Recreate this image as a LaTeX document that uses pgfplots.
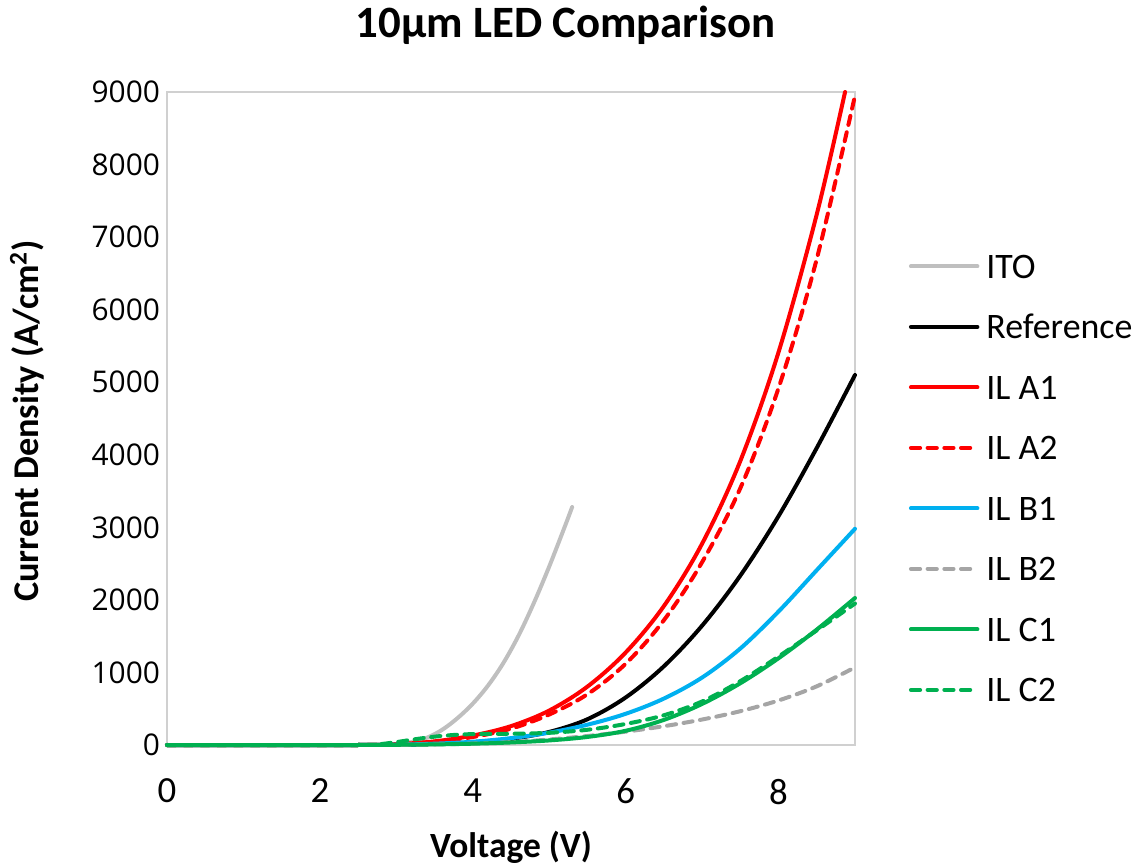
\documentclass[border=0pt]{standalone}
\usepackage{fontspec}
\setmainfont{Carlito}
\newfontfamily\yfont{Open Sans}
\usepackage{pgfplots}
\pgfplotsset{compat=1.18}
\definecolor{itogray}{RGB}{191,191,191}
\definecolor{ilred}{RGB}{255,0,0}
\definecolor{ilblue}{RGB}{0,176,240}
\definecolor{ilgray}{RGB}{165,165,165}
\definecolor{ilgreen}{RGB}{0,176,80}
\definecolor{axgray}{RGB}{208,208,208}
\begin{document}
\begin{tikzpicture}
\path[use as bounding box] (-83.5bp,-61bp) rectangle (489.5bp,372.5bp);
\begin{axis}[
  at={(0,0)}, anchor=south west,
  scale only axis, width=344bp, height=326.5bp,
  xmin=0, xmax=9, ymin=0, ymax=9000,
  xtick={0,2,4,6,8}, ytick={0,1000,...,9000},
  axis line style={draw=axgray, line width=0.9bp},
  tick style={draw=none},
  clip=false,
  /pgf/number format/assume math mode=true,
  /pgf/number format/1000 sep={},
  xticklabel style={font=\fontsize{18.5}{22}\selectfont, yshift=-13.5bp},
  yticklabel style={font=\yfont\fontsize{15}{18}\selectfont},
  every axis plot/.append style={line width=2bp, smooth, tension=0.55, line cap=round, line join=round},
  legend image code/.code={\draw[#1, sharp plot] (0bp,0bp) -- (33.25bp,0bp);},
  legend cell align=left,
  legend style={at={(1.0778,0.7513)}, anchor=north west, draw=none, fill=none,
    inner xsep=0pt, inner ysep=0pt, row sep=18.65bp, column sep=3.5bp,
    font=\fontsize{18}{21.6}\selectfont,
    nodes={inner sep=0pt, text height=11.6bp, text depth=0pt},
    cells={anchor=west}},
]
\addplot[itogray] coordinates {(0,0)(2.5,0)(2.8,3)(3.0,12)(3.2,40)(3.4,100)(3.6,210)(3.8,370)(4.0,570)(4.2,820)(4.4,1130)(4.6,1510)(4.8,1960)(5.0,2460)(5.2,3000)(5.3,3280)};
\addlegendentry{ITO}
\addplot[black] coordinates {(0,0)(2.5,0)(3.0,3)(3.5,13)(4.0,38)(4.5,85)(5.0,180)(5.5,355)(6.0,655)(6.5,1085)(7.0,1645)(7.5,2335)(8.0,3155)(8.5,4095)(9.0,5100)};
\addlegendentry{Reference}
\addplot[ilred] coordinates {(0,0)(2.5,0)(3.0,12)(3.5,50)(4.0,130)(4.5,260)(5.0,475)(5.5,805)(6.0,1275)(6.5,1915)(7.0,2775)(7.5,3915)(8.0,5415)(8.5,7315)(8.87,9000)};
\addlegendentry{IL A1}
\addplot[ilred, dash pattern=on 4.6bp off 3.75bp] coordinates {(0,0)(2.5,0)(3.0,10)(3.5,45)(4.0,110)(4.5,225)(5.0,420)(5.5,700)(6.0,1120)(6.5,1720)(7.0,2520)(7.5,3540)(8.0,4920)(8.5,6700)(9.0,8950)};
\addlegendentry{IL A2}
\addplot[ilblue] coordinates {(0,0)(2.5,0)(3.0,5)(3.5,18)(4.0,45)(4.5,95)(5.0,170)(5.5,280)(6.0,430)(6.5,640)(7.0,930)(7.5,1330)(8.0,1840)(8.5,2410)(9.0,2980)};
\addlegendentry{IL B1}
\addplot[ilgray, dash pattern=on 4.6bp off 3.75bp] coordinates {(0,0)(2.5,0)(3.0,2)(3.5,8)(4.0,20)(4.5,40)(5.0,76)(5.5,124)(6.0,184)(6.5,259)(7.0,351)(7.5,466)(8.0,614)(8.5,809)(9.0,1070)};
\addlegendentry{IL B2}
\addplot[ilgreen] coordinates {(0,0)(2.5,0)(3.0,3)(3.5,8)(4.0,18)(4.5,35)(5.0,63)(5.5,111)(6.0,196)(6.5,346)(7.0,566)(7.5,851)(8.0,1196)(8.5,1591)(9.0,2026)};
\addlegendentry{IL C1}
\addplot[ilgreen, dash pattern=on 4.6bp off 3.75bp] coordinates {(0,0)(2.5,0)(2.75,8)(3.0,40)(3.25,80)(3.5,115)(3.75,138)(4.0,150)(4.5,155)(5.0,168)(5.5,210)(6.0,290)(6.5,410)(7.0,600)(7.5,880)(8.0,1220)(8.5,1580)(9.0,1950)};
\addlegendentry{IL C2}
\end{axis}
\node[anchor=base, font=\fontsize{22.5}{27}\selectfont\bfseries] at (199.5bp,353.5bp) {10μm LED Comparison};
\node[anchor=base, font=\fontsize{17.8}{21}\selectfont\bfseries] at (172bp,-56bp) {Voltage (V)};
\node[anchor=base, rotate=90, font=\fontsize{18.2}{22}\selectfont\bfseries] at (-64bp,162bp) {Current Density (A/cm\textsuperscript{2})};
\end{tikzpicture}
\end{document}
